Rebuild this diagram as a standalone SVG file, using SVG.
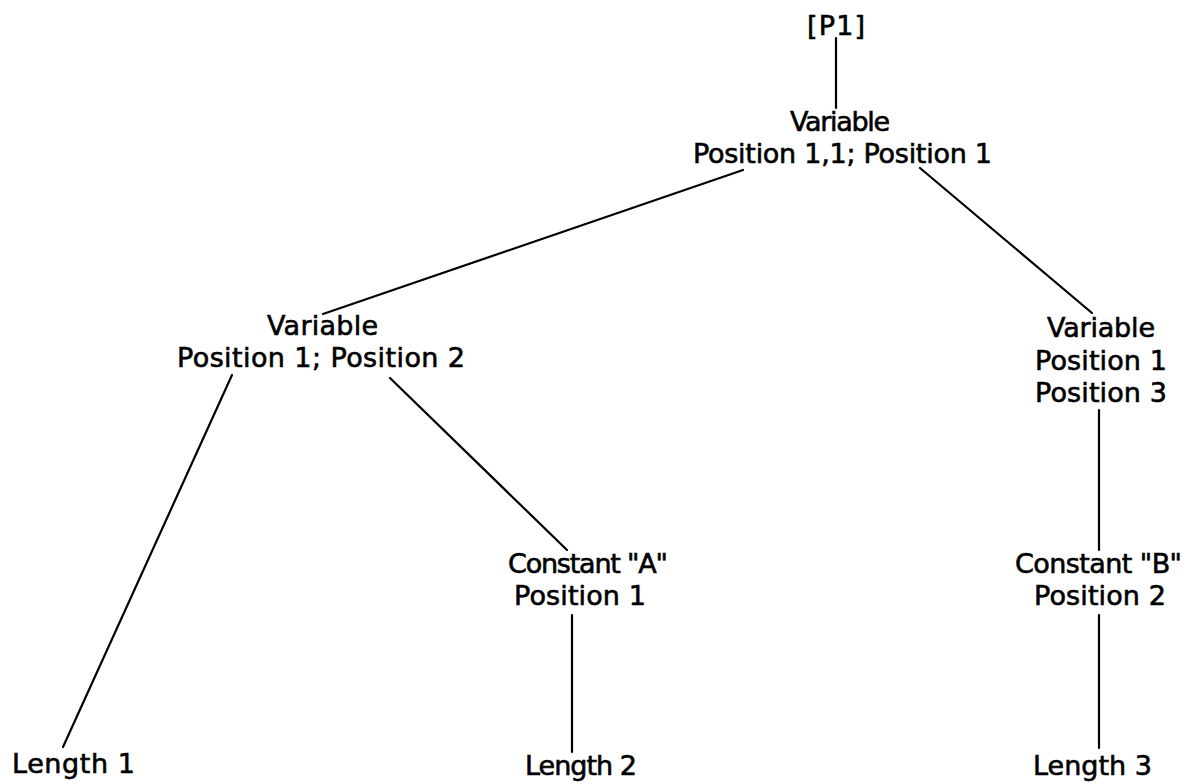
<svg xmlns="http://www.w3.org/2000/svg" width="1202" height="784" viewBox="0 0 1202 784">
  <style>
    .label { font-family: "DejaVu Sans", "Liberation Sans", sans-serif; font-size: 27px; fill: #000; stroke: #000; stroke-width: 0.6px; }
    .edge { stroke: #000; stroke-width: 2.2; fill: none; stroke-linecap: round; }
  </style>
  <rect width="1202" height="784" fill="#fff"/>

  <!-- connectors of the tree -->
  <g id="connectors">
    <line class="edge" x1="836" y1="38" x2="836" y2="108"/>
    <line class="edge" x1="743" y1="170" x2="323" y2="314"/>
    <line class="edge" x1="920" y1="168" x2="1092" y2="313"/>
    <line class="edge" x1="232" y1="375" x2="63" y2="747"/>
    <line class="edge" x1="390" y1="378" x2="567" y2="550"/>
    <line class="edge" x1="572" y1="615" x2="572" y2="752"/>
    <line class="edge" x1="1099" y1="410" x2="1099" y2="550"/>
    <line class="edge" x1="1099" y1="615" x2="1099" y2="748"/>
  </g>

  <g id="root">
    <text class="label" x="807" y="35" textLength="58">[P1]</text>
  </g>

  <g id="var-top">
    <text class="label" x="790" y="131" textLength="100">Variable</text>
    <text class="label" x="693" y="163" textLength="299">Position 1,1; Position 1</text>
  </g>

  <g id="var-left">
    <text class="label" x="267" y="335" textLength="111">Variable</text>
    <text class="label" x="177" y="367" textLength="288">Position 1; Position 2</text>
  </g>

  <g id="var-right">
    <text class="label" x="1047" y="337" textLength="108">Variable</text>
    <text class="label" x="1035" y="370" textLength="132">Position 1</text>
    <text class="label" x="1035" y="402" textLength="132">Position 3</text>
  </g>

  <g id="const-a">
    <text class="label" x="508" y="573" textLength="160">Constant "A"</text>
    <text class="label" x="514" y="605" textLength="132">Position 1</text>
  </g>

  <g id="const-b">
    <text class="label" x="1015" y="573" textLength="167">Constant "B"</text>
    <text class="label" x="1034" y="605" textLength="132">Position 2</text>
  </g>

  <g id="len-1">
    <text class="label" x="12" y="773" textLength="123">Length 1</text>
  </g>

  <g id="len-2">
    <text class="label" x="525" y="775" textLength="112">Length 2</text>
  </g>

  <g id="len-3">
    <text class="label" x="1033" y="775" textLength="119">Length 3</text>
  </g>
</svg>
